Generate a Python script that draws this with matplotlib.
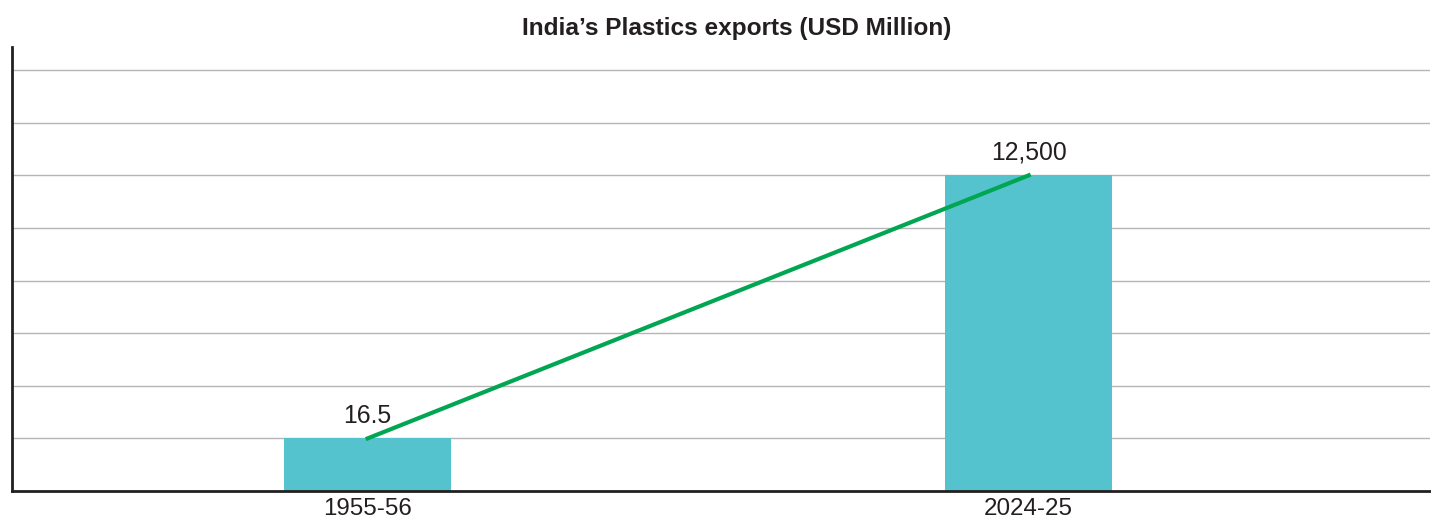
import matplotlib
matplotlib.use('Agg')
import matplotlib.pyplot as plt

# data
years = ['1955-56', '2024-25']
exports = [16.5, 12500]          # USD million
value_labels = ['16.5', '12,500']
bar_heights = [1, 6]             # drawn height in grid steps (chart is not to scale)

plt.rcParams['font.family'] = ['Liberation Sans', 'DejaVu Sans']

fig = plt.figure(figsize=(14.31, 5.21), dpi=100)
ax = fig.add_axes([12 / 1431, 30 / 521, 1418 / 1431, 444 / 521])

x = list(range(len(years)))
ax.bar(x, bar_heights, width=0.253, color='#55c3ce', zorder=2)
ax.plot(x, bar_heights, color='#00a651', lw=3, zorder=3)

for xi, h, lab in zip(x, bar_heights, value_labels):
    ax.text(xi, h + 0.30, lab, ha='center', va='baseline', fontsize=17.8, color='#231f20')

ax.set_xlim(-0.538, 1.607)
ax.set_ylim(0, 8.44)
ax.set_yticks(range(1, 9))
ax.set_yticklabels([])
ax.yaxis.grid(True, color='#b5b5b5', lw=1)
ax.set_axisbelow(True)
ax.tick_params(axis='both', length=0)
ax.set_xticks(x)
ax.set_xticklabels(years, fontsize=17.4, color='#231f20')
ax.tick_params(axis='x', pad=5)

for side in ['top', 'right']:
    ax.spines[side].set_visible(False)
for side in ['left', 'bottom']:
    ax.spines[side].set_color('#231f20')
    ax.spines[side].set_linewidth(2)

fig.text(737 / 1431, 1 - 28 / 521, 'India\u2019s Plastics exports (USD Million)',
         ha='center', va='center', fontsize=17.6, fontweight='bold', color='#231f20')

fig.savefig('out.png', dpi=100)
